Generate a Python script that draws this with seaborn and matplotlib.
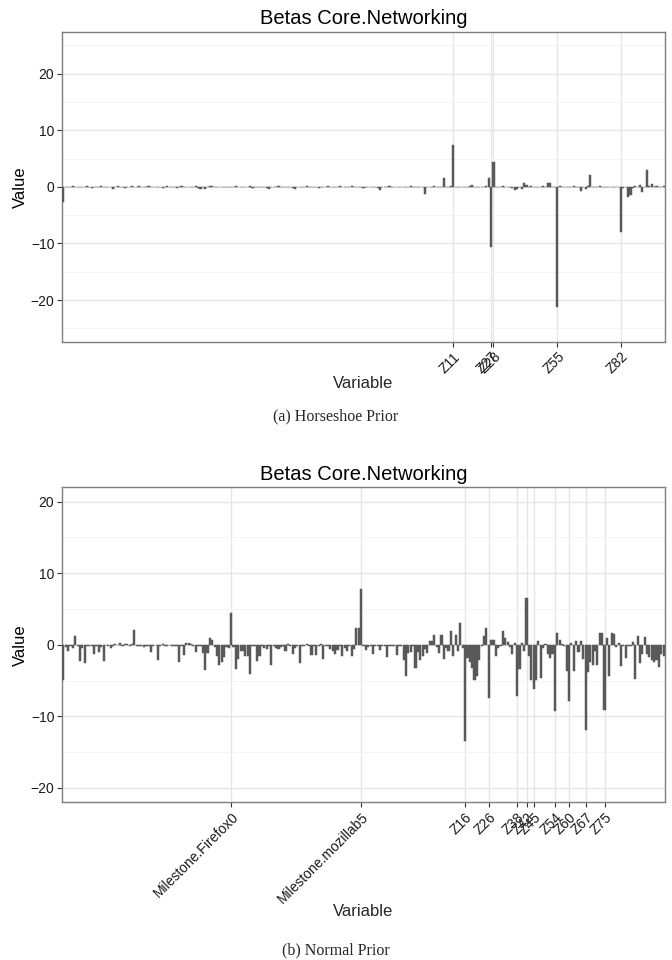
import matplotlib
matplotlib.use("Agg")
import matplotlib.pyplot as plt
import numpy as np
import pandas as pd
import seaborn as sns

# ---------------- data ----------------
n_other = 155
other_names = [f"V{i:03d}" for i in range(n_other)]
other_names[71] = "Milestone.Firefox0"
other_names[126] = "Milestone.mozillab5"
z_names = [f"Z{i}" for i in range(1, 101)]
variables = other_names + z_names

horseshoe_values = [
    -2.6, -0.1, -0.05, -0.1, 0.1, -0.05, -0.1, 0.05, -0.1, -0.05, 0.1, -0.05, -0.15, 0.05, -0.1,
    -0.05, 0.1, -0.1, -0.05, -0.1, 0.05, -0.4, -0.05, 0.1, -0.1, -0.05, -0.15, 0.05, -0.1, 0.1,
    0.05, -0.05, 0.1, 0.05, -0.05, 0.05, 0.1, -0.05, -0.1, 0.05, 0.05, -0.1, -0.15, -0.05, 0.1,
    -0.05, -0.1, 0.05, -0.15, -0.05, 0.1, -0.1, -0.05, 0.05, -0.1, -0.05, 0.1, -0.15, -0.3, -0.1,
    -0.3, -0.05, 0.1, 0.2, -0.1, 0.05, -0.05, -0.1, 0.05, -0.05, -0.1, 0.05, -0.05, 0.1, -0.1,
    -0.05, 0.05, -0.1, -0.05, 0.1, -0.15, 0.05, -0.1, -0.05, 0.05, -0.1, -0.15, -0.35, -0.1, 0.05,
    -0.05, 0.1, -0.1, -0.05, 0.05, -0.1, -0.05, -0.15, -0.35, -0.1, 0.05, -0.1, -0.05, 0.1, -0.05,
    -0.1, 0.05, -0.05, -0.25, -0.1, 0.05, -0.05, 0.1, -0.1, -0.05, 0.05, -0.1, 0.1, -0.05, -0.1,
    0.05, -0.05, 0.1, -0.1, -0.05, 0.05, -0.1, -0.15, 0.05, -0.1, -0.05, -0.1, 0.05, -0.15, -0.6,
    -0.1, 0.05, -0.05, 0.1, -0.05, -0.1, 0.05, -0.05, -0.1, 0.05, -0.05, -0.1, 0.1, -0.05, -0.1,
    0.05, -0.1, -0.05, -1.3, -0.1, 0.05, -0.1, 0.1, -0.05, 0.05, -0.1, 1.5, -0.05, 0.05, 0.1,
    7.35, -0.1, 0.05, -0.05, -0.1, 0.05, -0.05, 0.1, 0.3, -0.1, -0.05, 0.05, -0.1, -0.05, 0.1,
    1.5, -10.6, 4.35, -0.1, 0.05, -0.05, 0.1, -0.05, -0.1, 0.05, -0.15, -0.5, -0.3, -0.1, -0.35,
    0.6, 0.4, -0.05, 0.1, -0.1, 0.05, -0.1, -0.05, 0.1, 0.05, 0.6, 0.75, -0.1, 0.05, -21.3,
    0.1, -0.05, 0.05, -0.1, 0.05, -0.05, 0.1, -0.05, -0.1, -0.8, 0.05, -0.35, 0.1, 2.05, -0.05,
    0.05, -0.1, 0.2, -0.05, 0.05, -0.1, 0.05, -0.05, -0.1, 0.05, -0.1, -7.95, -0.2, 0.05, -1.8,
    -1.4, -0.2, 0.1, -0.1, 0.3, -0.9, -0.05, 2.95, 0.1, 0.5, -0.05, 0.1, -0.05, 0.05, 0.1,
]

normal_values = [
    -4.9, -0.3, -0.8, -0.2, -0.5, 1.2, -0.1, -2.3, -0.5, -2.6, -0.1, -0.1, -0.1, -1.3, -0.1,
    -1.0, -0.3, -2.3, 0.0, -0.1, -0.5, -0.1, 0.1, 0.0, 0.2, -0.1, 0.1, 0.1, -0.1, 0.1,
    2.0, -0.1, -0.2, -0.1, -0.3, -0.1, -0.2, -1.0, -0.1, 0.0, -2.1, -0.1, 0.1, -0.1, -0.1,
    0.0, -0.1, -0.1, -0.2, -2.4, -0.2, -1.4, 0.3, 0.3, 0.1, -0.2, -1.0, -0.1, -0.2, -1.2,
    -3.5, -1.2, 1.0, 0.7, -0.3, -1.6, -2.8, -2.4, -1.7, -0.3, -0.4, 4.5, -0.3, -3.4, -2.0,
    -0.8, -0.8, -1.5, -1.5, -4.1, -0.1, -0.1, -2.2, -1.6, -0.1, -0.4, -0.6, -0.1, -2.8, -0.1,
    -0.4, -0.6, -0.3, -0.1, -0.9, 0.1, -0.1, -1.3, -0.5, -0.1, -2.5, -0.1, -0.1, 0.1, -0.1,
    -1.4, -0.1, -1.4, -0.1, 0.1, -2.0, -0.1, -0.2, -0.6, -0.8, -1.3, -0.7, -0.1, -1.5, -0.4,
    -0.9, -0.1, -1.5, -0.6, 2.4, 2.4, 7.8, -0.1, -0.7, -0.3, -0.1, -1.3, -0.1, -0.1, -0.7,
    -0.1, -0.1, -1.7, -0.1, -0.2, -0.1, -1.4, -0.1, -0.1, -2.1, -4.4, -1.2, -1.0, -0.2, -3.3,
    -1.0, -2.1, -1.5, -0.6, -1.1, 0.6, 0.6, 1.3, -0.3, -1.1, 1.4, -2.0, -0.4, -0.8, 1.9,
    -1.5, 1.3, -0.8, 3.0, -0.4, -13.4, -1.9, -2.4, -3.3, -4.9, -4.3, -2.1, -0.2, 1.2, 2.4,
    -7.5, 0.7, 0.7, -1.6, -0.5, -0.2, 1.9, 1.0, 0.4, -0.3, -1.3, 0.2, -7.1, -3.4, 0.2,
    -0.8, 6.5, -1.5, -4.9, -6.2, -4.9, 0.6, -4.6, -0.5, 0.1, -1.3, -1.8, -1.3, -9.2, 1.6,
    0.7, 0.1, -0.2, -3.6, -7.9, 0.3, -3.6, 0.6, -1.0, 0.5, -2.0, -11.9, -3.8, -2.4, -2.8,
    -0.9, -2.8, 1.6, 1.7, -9.1, 0.9, -4.4, 1.7, 1.5, -0.3, 0.3, -3.0, -0.2, -1.9, -0.1,
    -0.2, 0.4, -4.8, 1.2, -2.6, -1.3, 1.1, -1.3, -1.7, -2.1, -2.4, -2.1, -3.1, -1.3, -1.6,
]

horseshoe_ticks = ["Z11", "Z27", "Z28", "Z55", "Z82"]
normal_ticks = ["Milestone.Firefox0", "Milestone.mozillab5", "Z16", "Z26", "Z38",
                "Z42", "Z45", "Z54", "Z60", "Z67", "Z75"]

title = "Betas Core.Networking"
captions = ["(a) Horseshoe Prior", "(b) Normal Prior"]

# ---------------- style ----------------
sns.set_theme(style="white")
plt.rcParams["font.family"] = ["Liberation Sans", "DejaVu Sans"]

W, H = 672, 960
fig = plt.figure(figsize=(W / 100, H / 100), dpi=100)


def fx(px):
    return px / W


def fy(py):
    return 1 - py / H


BAR = "#595959"


def panel(rect, values, ticks, ylim):
    ax = fig.add_axes(rect)
    df = pd.DataFrame({"Variable": variables, "Value": values})
    sns.barplot(data=df, x="Variable", y="Value", order=variables, color=BAR,
                saturation=1, width=0.9, linewidth=0.35, edgecolor=BAR,
                errorbar=None, ax=ax, zorder=3)
    pos = [variables.index(t) for t in ticks]
    ax.set_xticks(pos)
    ax.set_xticklabels(ticks, rotation=45, ha="right", va="top", rotation_mode="anchor")
    ax.set_yticks([-20, -10, 0, 10, 20])
    ax.set_yticks([-25, -15, -5, 5, 15, 25], minor=True)
    ax.set_xlim(-0.6, len(variables) - 0.4)
    ax.set_ylim(-ylim, ylim)
    ax.grid(which="major", color="#e6e6e6", lw=1.0, zorder=0)
    ax.grid(which="minor", axis="y", color="#f3f3f3", lw=0.6, zorder=0)
    ax.set_axisbelow(True)
    for s in ax.spines.values():
        s.set_color("#7f7f7f")
        s.set_linewidth(1.0)
    ax.tick_params(which="major", length=3.5, width=0.8, color="#333333",
                   labelsize=10, labelcolor="#1a1a1a", pad=2, bottom=True, left=True)
    ax.tick_params(which="minor", length=0)
    ax.set_title(title, fontsize=14.5, pad=5.5, color="black")
    ax.set_xlabel("")
    ax.set_ylabel("Value", fontsize=12, color="black")
    ax.yaxis.set_label_coords(-0.056, 0.5)
    return ax


ax1 = panel([fx(62), fy(342), fx(603), (342 - 31.7) / H], horseshoe_values, horseshoe_ticks, 27.4)
ax2 = panel([fx(62), fy(802.3), fx(603), (802.3 - 487.3) / H], normal_values, normal_ticks, 22.0)

fig.text(fx(363.5), fy(384), "Variable", ha="center", va="center", fontsize=12)
fig.text(fx(363.5), fy(911), "Variable", ha="center", va="center", fontsize=12)

fig.text(fx(336), fy(416), captions[0], ha="center", va="center", fontsize=11.5,
         family=["Liberation Serif", "DejaVu Serif"])
fig.text(fx(336), fy(950), captions[1], ha="center", va="center", fontsize=11.5,
         family=["Liberation Serif", "DejaVu Serif"])

fig.savefig("out.png", dpi=100, facecolor="white")
